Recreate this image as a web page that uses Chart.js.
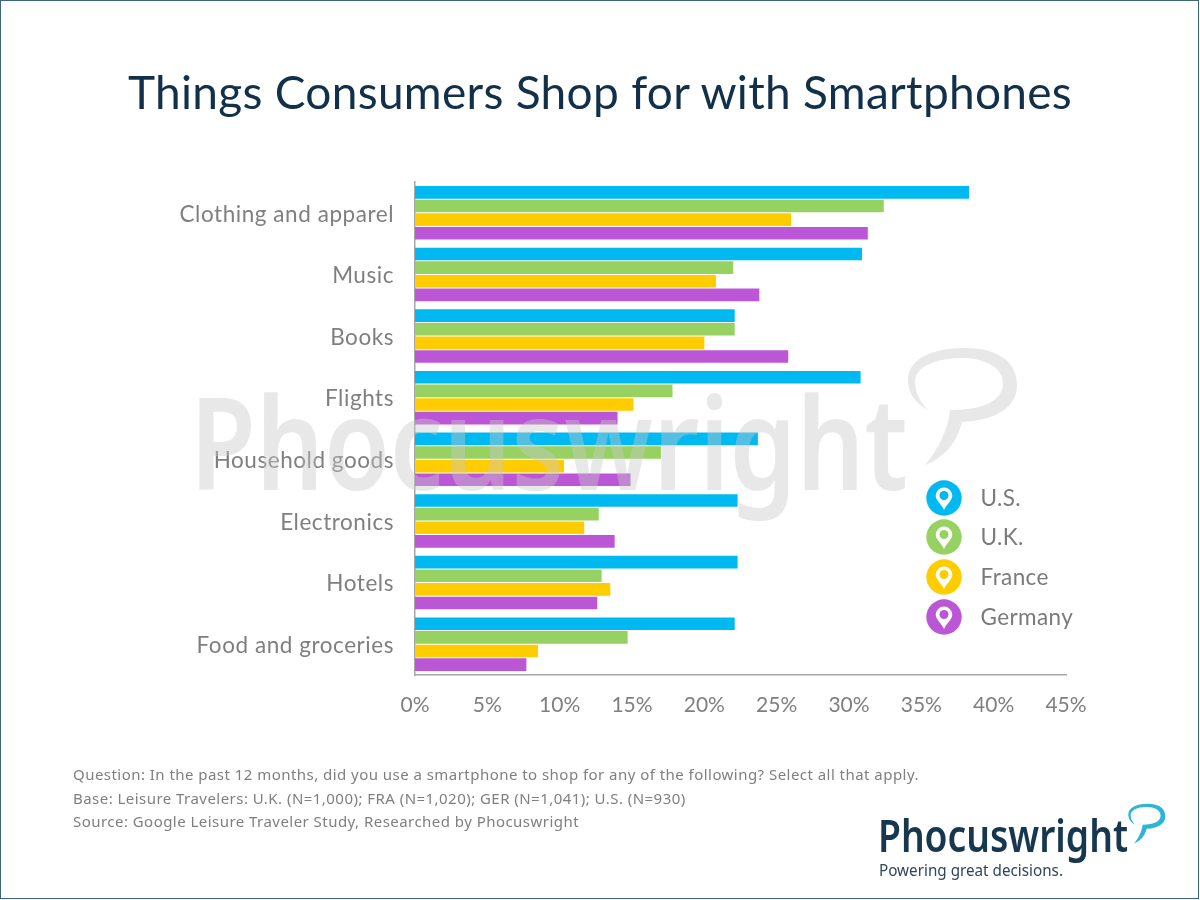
<!DOCTYPE html>
<html>
<head>
<meta charset="utf-8">
<script src="https://cdn.jsdelivr.net/npm/chart.js@4/dist/chart.umd.min.js"></script>
<style>
  html, body { margin: 0; padding: 0; background: #fff; }
  #page { position: relative; width: 1200px; height: 900px; overflow: hidden; font-family: "Lato", sans-serif; }
  #frame { position: absolute; left: 0; top: 0; width: 1197px; height: 897px; border: 1.5px solid #3f6480; pointer-events: none; }
  #title { position: absolute; left: 0; width: 1200px; top: 64px; text-align: center; font-size: 46px; color: #12304a; white-space: nowrap; letter-spacing: 0.3px; }
  #notes { position: absolute; left: 73px; top: 763px; font-family: "Noto Sans", sans-serif; font-size: 15px; line-height: 23.5px; color: #7f7f7f; white-space: nowrap; letter-spacing: 0.46px; }
  .leg { position: absolute; left: 925.5px; width: 170px; height: 36px; }
  .leg svg { position: absolute; left: 0; top: 0; }
  .leg span { position: absolute; left: 55px; top: 0; font-size: 22.5px; line-height: 36px; color: #7a7a7a; letter-spacing: 0.4px; }
  .overlay { position: absolute; left: 0; top: 0; pointer-events: none; }
</style>
</head>
<body>
<div id="page">
  <canvas id="shopChart" width="1200" height="900"></canvas>
  <svg class="overlay" width="1200" height="900">
    <defs>
      <path id="bubble" d="M928 410 C915 403 908 393 908 380 C908 360 930 348 965 348 C1000 348 1017 363 1017 385 C1017 405 1000 420 962 422 C958 440 945 458 925 465 C938 450 948 430 950 410 C985 410 1003 400 1003 383 C1003 368 985 358 962 358 C935 358 915 367 915 382 C915 392 920 402 928 410 Z"/>
    </defs>
    <g fill="#c8c8c8" fill-opacity="0.42">
      <text x="190" y="490" font-family="Noto Sans" font-size="128" font-weight="600" textLength="718" lengthAdjust="spacingAndGlyphs">Phocuswright</text>
      <use href="#bubble"/>
    </g>
    <text x="878" y="852" font-family="Noto Sans" font-size="45" font-weight="600" fill="#17374f" textLength="250" lengthAdjust="spacingAndGlyphs">Phocuswright</text>
    <text x="879" y="876" font-family="Noto Sans" font-size="17" fill="#2f4658" textLength="184" lengthAdjust="spacingAndGlyphs">Powering great decisions.</text>
    <use href="#bubble" fill="#2fb4d6" transform="translate(1128.3 803.7) scale(0.34) translate(-908 -348)"/>
  </svg>
  <div id="title">Things Consumers Shop for with Smartphones</div>
  <div id="legend"></div>
  <div id="notes">
    Question: In the past 12 months, did you use a smartphone to shop for any of the following? Select all that apply.<br>
    Base: Leisure Travelers: U.K. (N=1,000); FRA (N=1,020); GER (N=1,041); U.S. (N=930)<br>
    Source: Google Leisure Traveler Study, Researched by Phocuswright
  </div>
  <div id="frame"></div>
</div>
<script>
const categories = ['Clothing and apparel', 'Music', 'Books', 'Flights', 'Household goods', 'Electronics', 'Hotels', 'Food and groceries'];
const usValues = [38.3, 30.9, 22.1, 30.8, 23.7, 22.3, 22.3, 22.1];
const ukValues = [32.4, 22.0, 22.1, 17.8, 17.0, 12.7, 12.9, 14.7];
const franceValues = [26.0, 20.8, 20.0, 15.1, 10.3, 11.7, 13.5, 8.5];
const germanyValues = [31.3, 23.8, 25.8, 14.0, 14.9, 13.8, 12.6, 7.7];
const seriesNames = ['U.S.', 'U.K.', 'France', 'Germany'];
const seriesColors = ['#00b9f1', '#96d162', '#ffcc00', '#bb56d6'];

// legend sits inside the plot, pins are plain svg
const legendBox = document.getElementById('legend');
const legendTops = [479.5, 519, 559, 598.5];
seriesNames.forEach(function (name, i) {
    const row = document.createElement('div');
    row.className = 'leg';
    row.style.top = legendTops[i] + 'px';
    row.innerHTML = '<svg width="36" height="36">' +
        '<circle cx="18" cy="18" r="17.7" fill="' + seriesColors[i] + '"/>' +
        '<path d="M18 30 C15 24 9.7 20 9.7 15.8 A8.3 8.3 0 0 1 26.3 15.8 C26.3 20 21 24 18 30 Z" fill="#fff"/>' +
        '<circle cx="18" cy="15.5" r="4.5" fill="' + seriesColors[i] + '"/></svg>' +
        '<span>' + name + '</span>';
    legendBox.appendChild(row);
});

// category labels sit a little under the middle of their group
const categoryLabels = {
    id: 'categoryLabels',
    afterDraw: function (chart) {
        const ctx = chart.ctx;
        const yScale = chart.scales.y;
        ctx.save();
        ctx.font = '22.5px Lato';
        ctx.fillStyle = '#7f7f7f';
        ctx.textAlign = 'right';
        ctx.textBaseline = 'middle';
        ctx.letterSpacing = '0.55px';
        categories.forEach(function (name, i) {
            ctx.fillText(name, 394, yScale.getPixelForTick(i) + 1.5);
        });
        ctx.restore();
    }
};

const allValues = [usValues, ukValues, franceValues, germanyValues];

new Chart(document.getElementById('shopChart'), {
    type: 'bar',
    data: {
        labels: categories,
        datasets: allValues.map(function (vals, i) {
            return {
                label: seriesNames[i],
                data: vals,
                backgroundColor: seriesColors[i],
                categoryPercentage: 0.885,
                barPercentage: 0.92
            };
        })
    },
    plugins: [categoryLabels],
    options: {
        indexAxis: 'y',
        responsive: false,
        animation: false,
        devicePixelRatio: 1,
        layout: { padding: { top: 182, right: 134, left: 0, bottom: 0 } },
        plugins: { legend: { display: false }, tooltip: { enabled: false } },
        scales: {
            x: {
                min: 0,
                max: 45,
                grid: { display: false, drawTicks: false },
                border: { color: '#a6a6a6', width: 1.5 },
                ticks: {
                    stepSize: 5,
                    padding: 18,
                    maxRotation: 0,
                    color: '#7f7f7f',
                    font: { family: 'Lato', size: 21 },
                    callback: function (v) { return v + '%'; }
                },
                afterFit: function (s) { s.height = 225; }
            },
            y: {
                grid: { display: false, drawTicks: false },
                border: { color: '#a6a6a6', width: 1.5 },
                ticks: { display: false },
                afterFit: function (s) { s.width = 415; }
            }
        }
    }
});
</script>
</body>
</html>
